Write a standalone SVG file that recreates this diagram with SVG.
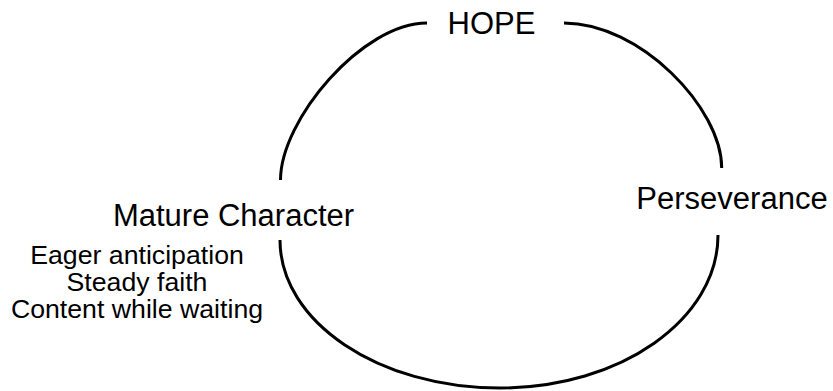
<svg xmlns="http://www.w3.org/2000/svg" width="833" height="391" viewBox="0 0 833 391">
<style>
.lbl{font-family:"Liberation Sans",Arial,sans-serif;fill:#000;text-anchor:middle}
.big{font-size:31px}
.small{font-size:26.7px}
.arc{fill:none;stroke:#000;stroke-width:3}
</style>
<rect width="833" height="391" fill="#fff"/>
<g id="connectors">
<path class="arc" d="M280.5,180 C280.5,120 362,23 427,23"/>
<path class="arc" d="M564,23 C640,23 721.7,108 721.7,168"/>
<path class="arc" d="M280,240 C280,321.7 378.5,388 500,388 C620.4,388 718,319.5 718,235"/>
</g>
<g id="hope"><text class="lbl big" x="491.5" y="34">HOPE</text></g>
<g id="perseverance"><text class="lbl big" x="732" y="209">Perseverance</text></g>
<g id="mature-character">
<text class="lbl big" x="233.5" y="226">Mature Character</text>
<text class="lbl small" x="137" y="264">Eager anticipation</text>
<text class="lbl small" x="137" y="291">Steady faith</text>
<text class="lbl small" x="137" y="318">Content while waiting</text>
</g>
</svg>
